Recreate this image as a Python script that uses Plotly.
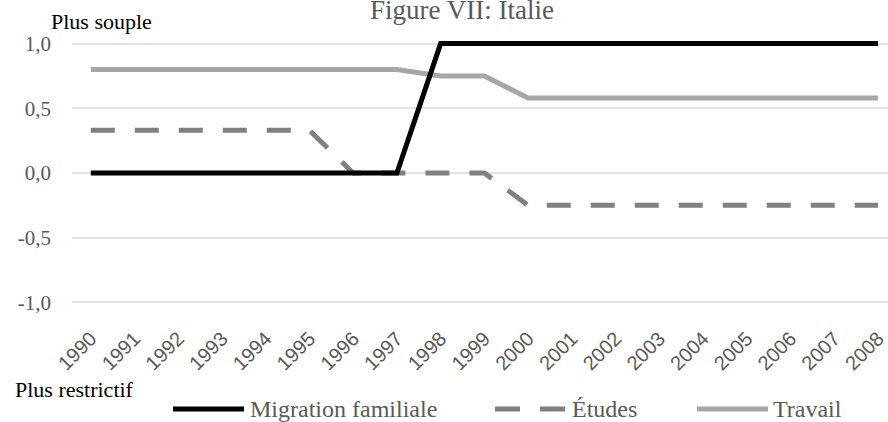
import plotly.graph_objects as go

years = [str(y) for y in range(1990, 2009)]
migration_familiale = [0, 0, 0, 0, 0, 0, 0, 0, 1, 1, 1, 1, 1, 1, 1, 1, 1, 1, 1]
etudes = [0.33, 0.33, 0.33, 0.33, 0.33, 0.33, 0, 0, 0, 0, -0.25, -0.25, -0.25, -0.25, -0.25, -0.25, -0.25, -0.25, -0.25]
travail = [0.8, 0.8, 0.8, 0.8, 0.8, 0.8, 0.8, 0.8, 0.75, 0.75, 0.58, 0.58, 0.58, 0.58, 0.58, 0.58, 0.58, 0.58, 0.58]
y_tickvals = [-1.0, -0.5, 0.0, 0.5, 1.0]
y_ticktext = ["-1,0", "-0,5", "0,0", "0,5", "1,0"]

W, H = 888, 422
ML, MR, MT, MB = 72, 0, 41, 117
PW, PH = W - ML - MR, H - MT - MB

def px(x):
    return (x - ML) / PW

def py(y):
    return (H - MB - y) / PH

BLACK = "#000000"
DARK = "#808080"
LIGHT = "#a6a6a6"
TXT = "#595959"
SERIF = "Liberation Serif"

fig = go.Figure()
fig.add_trace(go.Scatter(x=years, y=travail, mode="lines", name="Travail",
                         line=dict(color=LIGHT, width=5), showlegend=False))
fig.add_trace(go.Scatter(x=years, y=etudes, mode="lines", name="Études",
                         line=dict(color=DARK, width=5, dash="24px,20px"), showlegend=False))
fig.add_trace(go.Scatter(x=years, y=migration_familiale, mode="lines", name="Migration familiale",
                         line=dict(color=BLACK, width=5), showlegend=False))

fig.update_layout(
    width=W, height=H,
    margin=dict(l=ML, r=MR, t=MT, b=MB),
    paper_bgcolor="white", plot_bgcolor="white",
    xaxis=dict(type="category", range=[-0.43, 18.23], showgrid=False, zeroline=False,
               showline=False, ticks="", tickangle=-45, ticklabelstandoff=17,
               tickfont=dict(family="Liberation Sans", size=20, color=TXT)),
    yaxis=dict(range=[-1.02, 1.02], tickvals=y_tickvals, ticktext=y_ticktext,
               showgrid=True, gridcolor="#e3e3e3", gridwidth=1.5, zeroline=False,
               showline=False, ticks="", ticklabelstandoff=20,
               tickfont=dict(family=SERIF, size=21, color=TXT)),
)

annots = [
    dict(text="Figure VII: Italie", x=px(462), y=py(27), xanchor="center", yanchor="bottom",
         font=dict(family=SERIF, size=27, color=TXT)),
    dict(text="Plus souple", x=px(49), y=py(21), xanchor="left", yanchor="middle",
         font=dict(family=SERIF, size=22, color="#000000")),
    dict(text="Plus restrictif", x=px(13), y=py(389), xanchor="left", yanchor="middle",
         font=dict(family=SERIF, size=22, color="#000000")),
    dict(text="Migration familiale", x=px(248), y=py(409), xanchor="left", yanchor="middle",
         font=dict(family=SERIF, size=24, color=TXT)),
    dict(text="Études", x=px(570), y=py(409), xanchor="left", yanchor="middle",
         font=dict(family=SERIF, size=24, color=TXT)),
    dict(text="Travail", x=px(771), y=py(409), xanchor="left", yanchor="middle",
         font=dict(family=SERIF, size=24, color=TXT)),
]
for a in annots:
    fig.add_annotation(xref="paper", yref="paper", showarrow=False, **a)

legend_lines = [
    (173, 244, BLACK, "solid"),
    (495, 565, DARK, "25px,20px"),
    (697, 768, LIGHT, "solid"),
]
for x0, x1, c, d in legend_lines:
    fig.add_shape(type="line", xref="paper", yref="paper", x0=px(x0), x1=px(x1),
                  y0=py(409), y1=py(409), line=dict(color=c, width=5, dash=d))

fig.write_html("out.html", config={"displayModeBar": False},
               post_script="document.body.style.margin='0px';document.body.style.overflow='hidden';")
